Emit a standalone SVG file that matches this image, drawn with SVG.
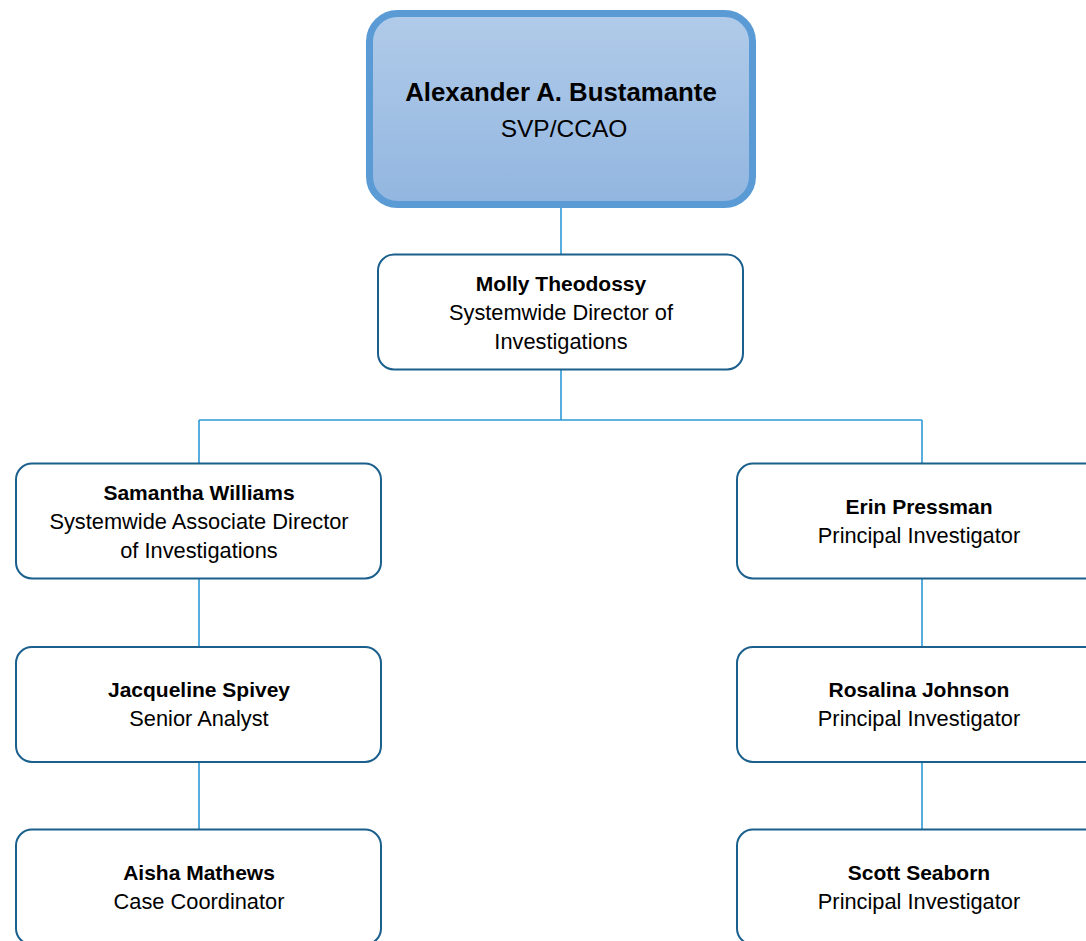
<svg xmlns="http://www.w3.org/2000/svg" width="1086" height="941" viewBox="0 0 1086 941">
<defs>
<linearGradient id="topfill" x1="0" y1="0" x2="0" y2="1">
<stop offset="0" stop-color="#b1cbe9"/>
<stop offset="1" stop-color="#92b6e0"/>
</linearGradient>
</defs>
<style>
.box{fill:#ffffff;stroke:#1b5f8c;stroke-width:2}
.top{fill:url(#topfill);stroke:#5b9bd5;stroke-width:7}
.conn{fill:none;stroke:#2e9ad6;stroke-width:1.6}
text{font-family:"Liberation Sans",Arial,sans-serif;font-size:21.8px;fill:#000;text-anchor:middle}
.b{font-weight:bold;font-size:21px}
.tb{font-weight:bold;font-size:25.8px}
.tt{font-size:24.5px}
</style>
<rect width="1086" height="941" fill="#ffffff"/>
<g id="connectors">
<path class="conn" d="M561 208V254M561 370V420M199 420H922M199 420V463M922 420V463M199 579V647M922 579V647M199 762V829M922 762V829"/>
</g>
<g id="n-alexander">
<rect class="top" x="369.5" y="13.5" width="383" height="191" rx="28"/>
<text class="tb" x="561" y="101">Alexander A. Bustamante</text>
<text class="tt" x="564" y="137">SVP/CCAO</text>
</g>
<g id="n-molly">
<rect class="box" x="378" y="254.5" width="365" height="115" rx="16"/>
<text class="b" x="561" y="291">Molly Theodossy</text>
<text x="561" y="320">Systemwide Director of</text>
<text x="561" y="349">Investigations</text>
</g>
<g id="n-samantha">
<rect class="box" x="16" y="463.5" width="365" height="115" rx="16"/>
<text class="b" x="199" y="500">Samantha Williams</text>
<text x="199" y="529">Systemwide Associate Director</text>
<text x="199" y="558">of Investigations</text>
</g>
<g id="n-erin">
<rect class="box" x="737" y="463.5" width="365" height="115" rx="16"/>
<text class="b" x="919" y="514">Erin Pressman</text>
<text x="919" y="543">Principal Investigator</text>
</g>
<g id="n-jacqueline">
<rect class="box" x="16" y="647" width="365" height="115" rx="16"/>
<text class="b" x="199" y="697">Jacqueline Spivey</text>
<text x="199" y="726">Senior Analyst</text>
</g>
<g id="n-rosalina">
<rect class="box" x="737" y="647" width="365" height="115" rx="16"/>
<text class="b" x="919" y="697">Rosalina Johnson</text>
<text x="919" y="726">Principal Investigator</text>
</g>
<g id="n-aisha">
<rect class="box" x="16" y="829.5" width="365" height="115" rx="16"/>
<text class="b" x="199" y="880">Aisha Mathews</text>
<text x="199" y="909">Case Coordinator</text>
</g>
<g id="n-scott">
<rect class="box" x="737" y="829.5" width="365" height="115" rx="16"/>
<text class="b" x="919" y="880">Scott Seaborn</text>
<text x="919" y="909">Principal Investigator</text>
</g>
</svg>
